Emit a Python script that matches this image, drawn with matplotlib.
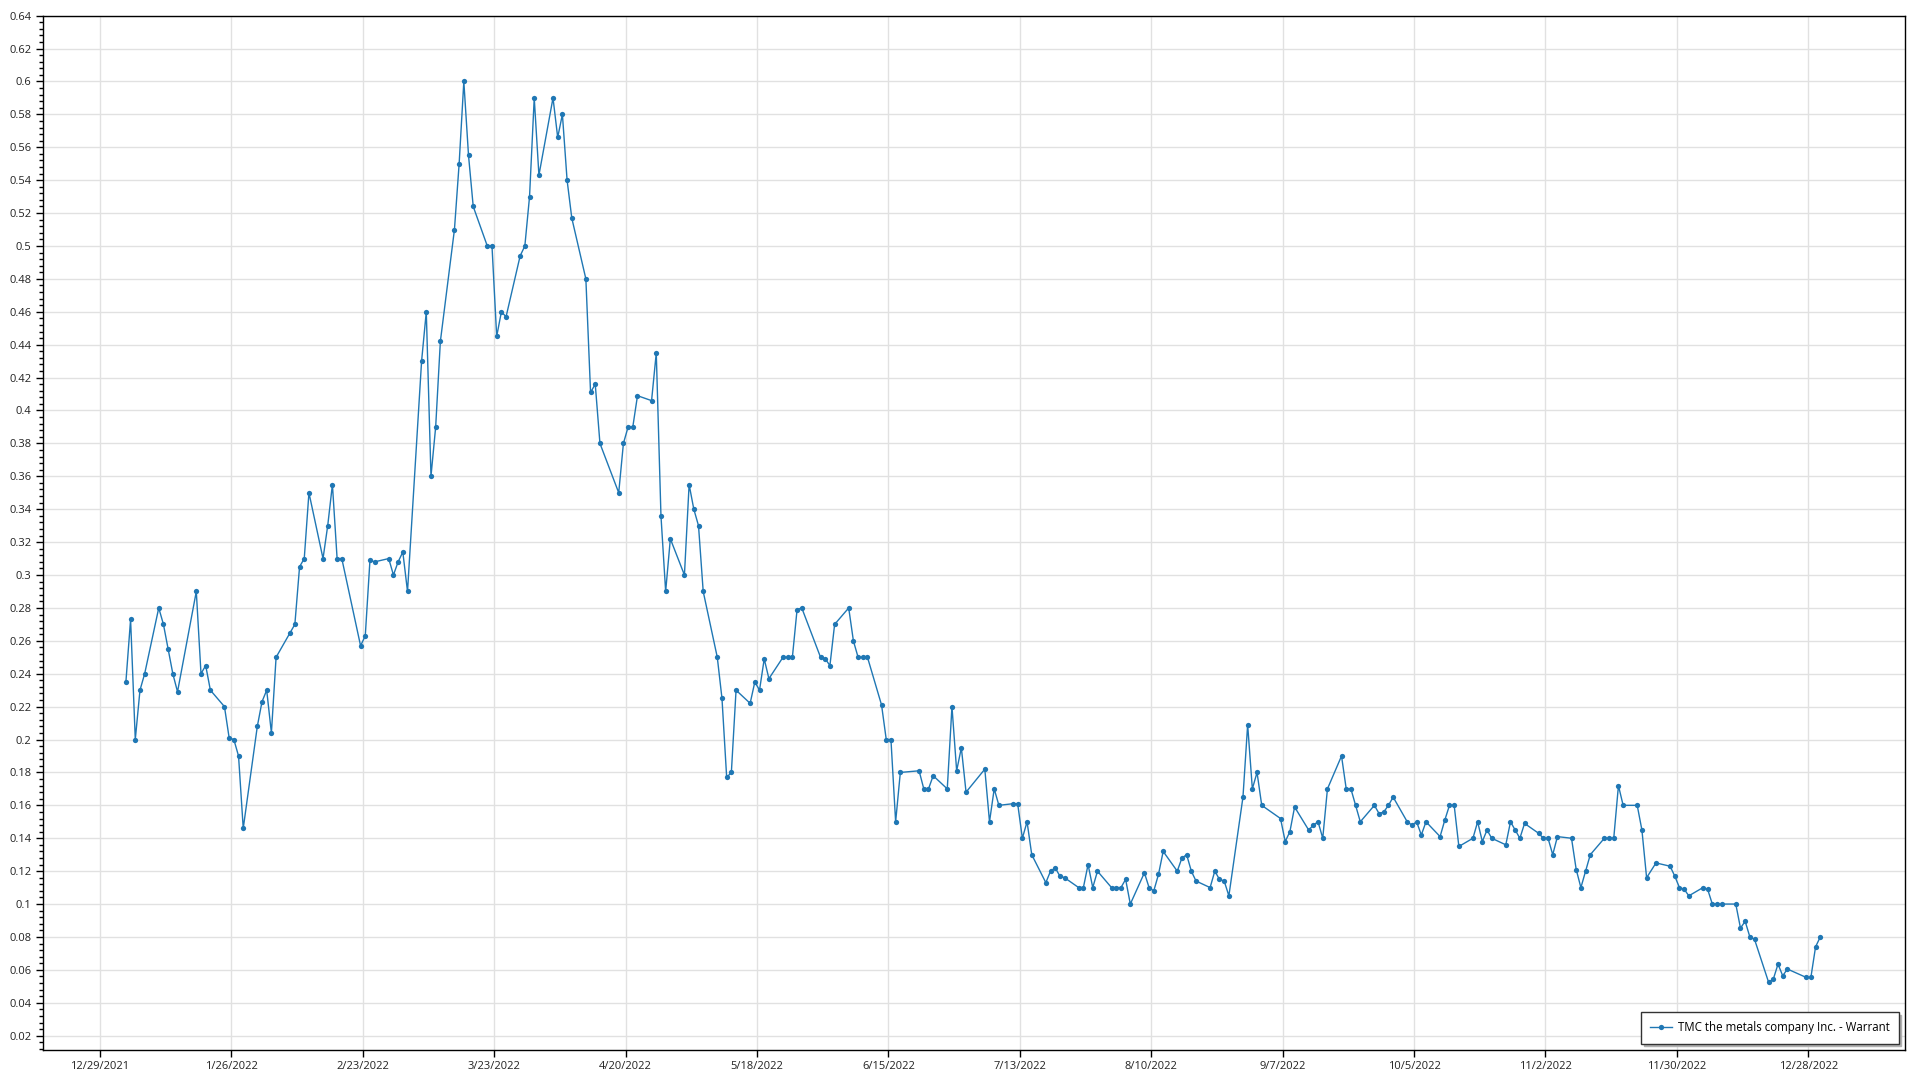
import matplotlib
matplotlib.use("Agg")
import matplotlib.pyplot as plt
import matplotlib.dates as mdates
from matplotlib.ticker import MultipleLocator, FuncFormatter
import pandas as pd

plt.rcParams['font.family'] = ['Open Sans', 'DejaVu Sans']

series_name = "TMC the metals company Inc. - Warrant"

holidays_2022 = ['2022-01-17', '2022-02-21', '2022-04-15', '2022-05-30', '2022-06-20',
                 '2022-07-04', '2022-09-05', '2022-11-24', '2022-12-26']

jan = [0.235, 0.273, 0.200, 0.230, 0.240, 0.280, 0.270, 0.255, 0.240, 0.229,
       0.290, 0.240, 0.245, 0.230, 0.220, 0.201, 0.200, 0.190, 0.146, 0.208]
feb = [0.223, 0.230, 0.204, 0.250, 0.265, 0.270, 0.305, 0.310, 0.350, 0.310,
       0.330, 0.355, 0.310, 0.310, 0.257, 0.263, 0.309, 0.308, 0.310]
mar = [0.300, 0.308, 0.314, 0.290, 0.430, 0.460, 0.360, 0.390, 0.442, 0.510,
       0.550, 0.600, 0.555, 0.524, 0.500, 0.500, 0.445, 0.460, 0.457, 0.494,
       0.500, 0.530, 0.590]
apr = [0.543, 0.590, 0.566, 0.580, 0.540, 0.517, 0.480, 0.411, 0.416, 0.380,
       0.350, 0.380, 0.390, 0.390, 0.409, 0.406, 0.435, 0.336, 0.290, 0.322]
may = [0.300, 0.355, 0.340, 0.330, 0.290, 0.250, 0.225, 0.177, 0.180, 0.230,
       0.222, 0.235, 0.230, 0.249, 0.237, 0.250, 0.250, 0.250, 0.279, 0.280, 0.250]
jun = [0.249, 0.245, 0.270, 0.280, 0.260, 0.250, 0.250, 0.250, 0.221, 0.200,
       0.200, 0.150, 0.180, 0.181, 0.170, 0.170, 0.178, 0.170, 0.220, 0.181, 0.195]
jul = [0.168, 0.182, 0.150, 0.170, 0.160, 0.161, 0.161, 0.140, 0.150, 0.130,
       0.113, 0.120, 0.122, 0.117, 0.116, 0.110, 0.110, 0.124, 0.110, 0.120]
aug = [0.110, 0.110, 0.110, 0.115, 0.100, 0.119, 0.110, 0.108, 0.118, 0.132,
       0.120, 0.128, 0.130, 0.120, 0.114, 0.110, 0.120, 0.115, 0.114, 0.105,
       0.165, 0.209, 0.170]
sep = [0.180, 0.160, 0.152, 0.138, 0.144, 0.159, 0.145, 0.148, 0.150, 0.140,
       0.170, 0.190, 0.170, 0.170, 0.160, 0.150, 0.160, 0.155, 0.156, 0.160, 0.165]
oct_ = [0.150, 0.148, 0.150, 0.142, 0.150, 0.141, 0.151, 0.160, 0.160, 0.135,
        0.140, 0.150, 0.138, 0.145, 0.140, 0.136, 0.150, 0.145, 0.140, 0.149, 0.143]
nov = [0.140, 0.140, 0.130, 0.141, 0.140, 0.121, 0.110, 0.120, 0.130, 0.140,
       0.140, 0.140, 0.172, 0.160, 0.160, 0.145, 0.116, 0.125, 0.123, 0.117, 0.110]
dec = [0.109, 0.105, 0.110, 0.109, 0.100, 0.100, 0.100, 0.100, 0.0854, 0.0895,
       0.080, 0.0785, 0.0524, 0.0544, 0.0635, 0.0564, 0.0605, 0.0554, 0.0554, 0.074, 0.080]

values = jan + feb + mar + apr + may + jun + jul + aug + sep + oct_ + nov + dec
dates = pd.bdate_range('2022-01-03', '2022-12-30', freq='C', holidays=holidays_2022) + pd.Timedelta(hours=13)

tick_dates = pd.date_range('2021-12-29', periods=14, freq='28D')
tick_labels = [f"{d.month}/{d.day}/{d.year}" for d in tick_dates]

fig = plt.figure(figsize=(19.2, 10.8), dpi=100)
ax = fig.add_axes([0.0222, 0.0278, 0.9700, 0.9577])

color = '#1f77b4'
ax.plot(dates, values, color=color, linewidth=1.0, marker='o', markersize=3.8,
        markeredgewidth=0, label=series_name, zorder=3)

ax.set_xlim(pd.Timestamp('2021-12-29') - pd.Timedelta(days=12.2),
            pd.Timestamp('2021-12-29') + pd.Timedelta(days=384.6))
ax.set_ylim(0.0113, 0.64)

ax.set_xticks(tick_dates)
ax.set_xticklabels(tick_labels)
ax.yaxis.set_major_locator(MultipleLocator(0.02))
ax.yaxis.set_minor_locator(MultipleLocator(0.004))
ax.yaxis.set_major_formatter(FuncFormatter(lambda v, p: f"{round(v, 2):g}"))

ax.grid(True, which='major', color='#e1e1e1', linewidth=1.0, zorder=0)
ax.set_axisbelow(True)
ax.tick_params(axis='both', which='major', labelsize=8, length=5, width=1,
               color='black', labelcolor='#222222', pad=3)
ax.tick_params(axis='y', which='minor', length=3, width=1, color='black')
for s in ax.spines.values():
    s.set_color('black')
    s.set_linewidth(1.0)

leg = ax.legend(loc='lower right', fontsize=8.3, frameon=True, fancybox=False,
                shadow={'color': '#b0b0b0', 'alpha': 1.0}, edgecolor='#333333',
                borderaxespad=0.55, handlelength=1.9, handletextpad=0.45,
                borderpad=0.8)
leg.get_frame().set_linewidth(1.0)

fig.savefig('out.png', dpi=100)
